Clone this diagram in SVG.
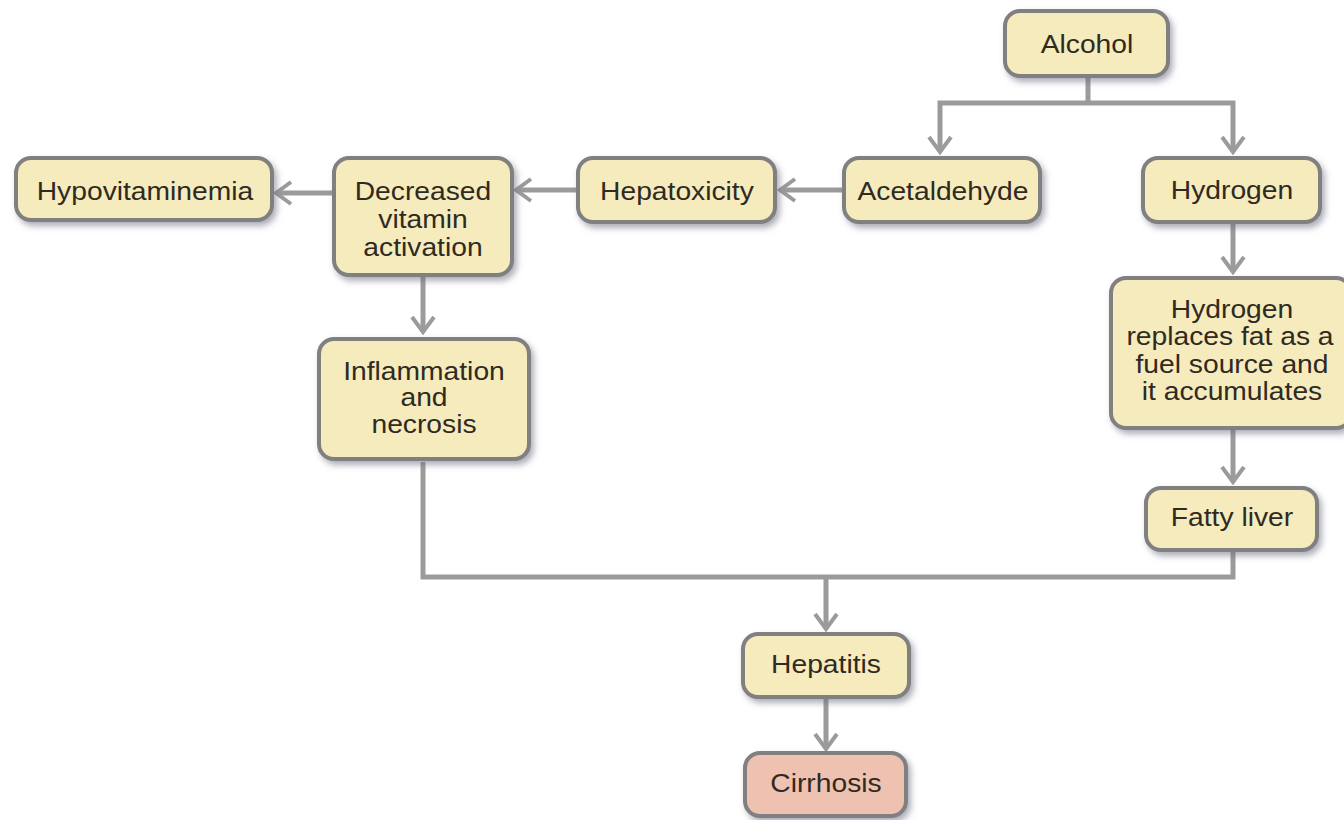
<svg xmlns="http://www.w3.org/2000/svg" width="1344" height="820" viewBox="0 0 1344 820">
<style>
.box{fill:#f6ebbd;stroke:#808080;stroke-width:4;filter:url(#sh)}
.red{fill:#efc1b1}
.t{font-family:"Liberation Sans",Arial,sans-serif;font-size:25px;fill:#2f2a22;text-anchor:middle;transform-box:fill-box;transform-origin:center;transform:scaleX(1.13)}
.c{fill:none;stroke:#9b9b9b;stroke-width:5}
.a{marker-end:url(#ar)}
</style>
<defs>
<filter id="sh" x="-20%" y="-20%" width="150%" height="160%">
<feGaussianBlur in="SourceAlpha" stdDeviation="3"/>
<feOffset dx="3" dy="4" result="b"/>
<feFlood flood-color="#6a6a80" flood-opacity="0.55"/>
<feComposite in2="b" operator="in"/>
<feMerge><feMergeNode/><feMergeNode in="SourceGraphic"/></feMerge>
</filter>
<marker id="ar" markerUnits="userSpaceOnUse" viewBox="0 0 20 26" refX="17" refY="13" markerWidth="20" markerHeight="26" orient="auto">
<path d="M2,2 L17,13 L2,24" fill="none" stroke="#9b9b9b" stroke-width="4"/>
</marker>
</defs>
<rect width="1344" height="820" fill="#ffffff"/>
<g id="connectors">
<path class="c" d="M1088,78 V103"/>
<path class="c a" d="M1088,103 H940 V152"/>
<path class="c a" d="M1088,103 H1233 V152"/>
<path class="c a" d="M843,190 H780"/>
<path class="c a" d="M577,190 H516"/>
<path class="c a" d="M333,193 H276"/>
<path class="c a" d="M423,277 V332"/>
<path class="c a" d="M1233,224 V272"/>
<path class="c a" d="M1233,430 V482"/>
<path class="c" d="M423,462 V577 H1233 V552"/>
<path class="c a" d="M826,577 V629"/>
<path class="c a" d="M826,698 V749"/>
</g>
<g id="alcohol"><rect class="box" x="1005" y="11" width="163" height="65" rx="15"/><text class="t" x="1087" y="53">Alcohol</text></g>
<g id="acetaldehyde"><rect class="box" x="844" y="158" width="196" height="64" rx="15"/><text class="t" x="943" y="200">Acetaldehyde</text></g>
<g id="hydrogen"><rect class="box" x="1143" y="158" width="177" height="64" rx="15"/><text class="t" x="1232" y="199">Hydrogen</text></g>
<g id="hepatoxicity"><rect class="box" x="578" y="158" width="197" height="64" rx="15"/><text class="t" x="677" y="200">Hepatoxicity</text></g>
<g id="decreased"><rect class="box" x="334" y="158" width="178" height="117" rx="15"/><text class="t" x="423" y="200">Decreased</text><text class="t" x="423" y="228">vitamin</text><text class="t" x="423" y="256">activation</text></g>
<g id="hypovitaminemia"><rect class="box" x="16" y="158" width="256" height="62" rx="15"/><text class="t" x="145" y="200">Hypovitaminemia</text></g>
<g id="inflammation"><rect class="box" x="319" y="339" width="210" height="120" rx="15"/><text class="t" x="424" y="380">Inflammation</text><text class="t" x="424" y="406">and</text><text class="t" x="424" y="433">necrosis</text></g>
<g id="replaces"><rect class="box" x="1111" y="278" width="240" height="150" rx="15"/><text class="t" x="1232" y="318">Hydrogen</text><text class="t" x="1230" y="345">replaces fat as a</text><text class="t" x="1232" y="373">fuel source and</text><text class="t" x="1232" y="400">it accumulates</text></g>
<g id="fatty"><rect class="box" x="1146" y="488" width="171" height="62" rx="15"/><text class="t" x="1232" y="526">Fatty liver</text></g>
<g id="hepatitis"><rect class="box" x="743" y="634" width="166" height="63" rx="15"/><text class="t" x="826" y="673">Hepatitis</text></g>
<g id="cirrhosis"><rect class="box red" x="745" y="753" width="161" height="63" rx="15"/><text class="t" x="826" y="792">Cirrhosis</text></g>
</svg>
